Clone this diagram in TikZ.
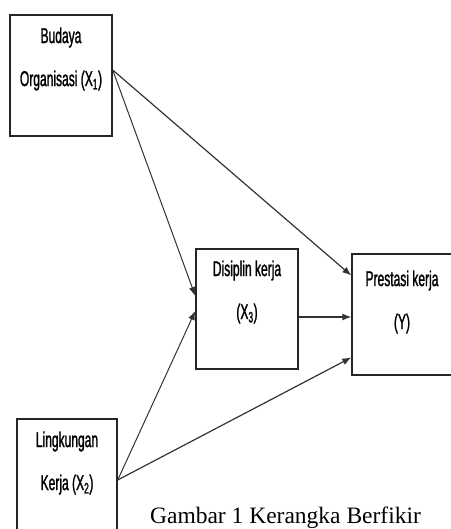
\documentclass[tikz,border=0pt]{standalone}
\usepackage{fontspec}
\setmainfont{Liberation Serif}
\newfontfamily\boxfont{Liberation Sans}[FakeStretch=0.56, FakeBold=1.2]
\usetikzlibrary{arrows.meta}
\usetikzlibrary{positioning}

\begin{document}
\begin{tikzpicture}[x=1pt, y=-1pt]
    % ================= 样式定义 =================
    \tikzset{
        % 变量方框:黑边矩形
        varbox/.style={rectangle, draw=black!85, line width=1.4pt, inner sep=0pt},
        % 方框内文字:窄体无衬线
        vartext/.style={align=center, inner sep=0pt, font=\boxfont\fontsize{21.5}{43}\selectfont},
        % 影响路径箭头
        path_arrow/.style={line width=1.2pt, draw=black!80, -{Latex[length=9pt,width=7pt]}}
    }
    \useasboundingbox (0,0) rectangle (450,529);

    % ================= 变量方框 =================
    \node[varbox, minimum width=102pt, minimum height=121pt] (x1) at (61,75.5) {};
    \node[varbox, minimum width=102pt, minimum height=120pt] (x3) at (247,309) {};
    \node[varbox, minimum width=100pt, minimum height=121pt] (y) at (402,314.5) {};
    \node[varbox, minimum width=100pt, minimum height=124pt] (x2) at (67,481) {};

    % 方框内文字
    \node[vartext, below=13pt of x1.north] (x1t) {Budaya\\Organisasi (X\textsubscript{1})};
    \node[vartext, below=12pt of x3.north] (x3t) {Disiplin kerja\\(X\textsubscript{3})};
    \node[vartext, below=17pt of y.north] (yt) {Prestasi kerja\\(Y)};
    \node[vartext, below=13pt of x2.north] (x2t) {Lingkungan\\Kerja (X\textsubscript{2})};

    % ================= 路径箭头 =================
    \draw[path_arrow, line width=1pt] ([yshift=5.5pt]x1.east) -- ([yshift=13pt]x3.west);
    \draw[path_arrow] ([yshift=5.5pt]x1.east) -- ([yshift=39pt]y.west);
    \draw[path_arrow] ([yshift=-8pt]x3.east) -- ([yshift=-8pt]x3.east -| y.west);
    \draw[path_arrow, line width=1pt] ([yshift=1pt]x2.east) -- ([yshift=-2pt]x3.west);
    \draw[path_arrow] ([yshift=1pt]x2.east) -- ([yshift=-43pt]y.west);

    \node[font=\fontsize{23.5}{28}\selectfont, anchor=base, inner sep=0pt] (caption) at (285.5,523) {Gambar 1 Kerangka Berfikir};
\end{tikzpicture}
\end{document}
